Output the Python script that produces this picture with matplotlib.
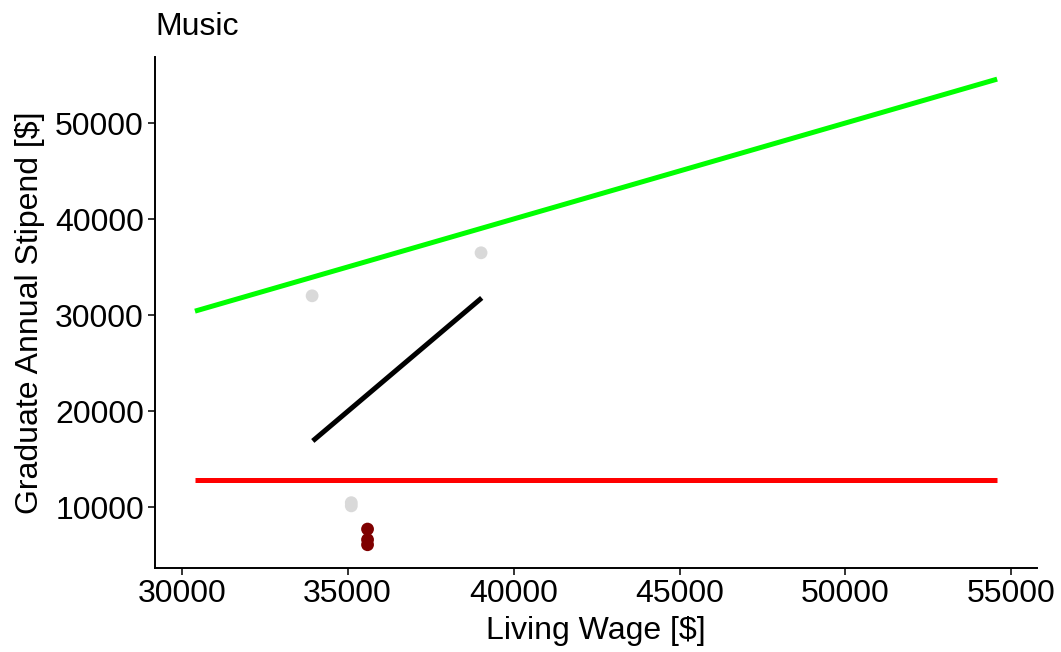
import matplotlib
matplotlib.use("Agg")
import matplotlib.pyplot as plt

plt.rcParams['font.family'] = ['Liberation Sans', 'DejaVu Sans']

# identity line (stipend = living wage)
wage_range = [30400, 54570]
# poverty-level stipend line
poverty_x = [30400, 54570]
poverty_y = [12850, 12850]
# fitted trend over the music programmes
fit_x = [33950, 39040]
fit_y = [16880, 31780]
# programmes above threshold (grey) and below (dark red)
grey_x = [33930, 39020, 35110, 35110]
grey_y = [32000, 36480, 10450, 10120]
low_x = [35600, 35600, 35600]
low_y = [7700, 6600, 6070]

xticks = [30000, 35000, 40000, 45000, 50000, 55000]
yticks = [10000, 20000, 30000, 40000, 50000]

W, H = 1061, 652
fig = plt.figure(figsize=(W / 100, H / 100), dpi=100)
ax = fig.add_axes([155 / W, (H - 568) / H, (1037 - 155) / W, (568 - 57) / H])

ax.plot(wage_range, wage_range, color='#00FF00', lw=3.6, solid_capstyle='butt')
ax.plot(poverty_x, poverty_y, color='#FF0000', lw=3.6, solid_capstyle='butt')
ax.scatter(grey_x, grey_y, s=85, color='#D9D9D9', edgecolors='none', zorder=3)
ax.scatter(low_x, low_y, s=85, color='#7F0000', edgecolors='none', zorder=3)
ax.plot(fit_x, fit_y, color='black', lw=3.6, solid_capstyle='butt', zorder=4)

ax.set_xlim(29196, 55771)
ax.set_ylim(3646, 56875)
ax.set_xticks(xticks)
ax.set_yticks(yticks)
ax.set_xticklabels([str(t) for t in xticks])
ax.set_yticklabels([str(t) for t in yticks])

for s in ['top', 'right']:
    ax.spines[s].set_visible(False)
for s in ['left', 'bottom']:
    ax.spines[s].set_linewidth(1.4)
    ax.spines[s].set_color('black')
ax.tick_params(axis='both', length=5, width=1.4, color='#333333',
               labelsize=23, labelcolor='black', pad=3)

ax.set_xlabel('Living Wage [$]', fontsize=23, labelpad=5)
ax.set_ylabel('Graduate Annual Stipend [$]', fontsize=23, labelpad=7)
ax.set_title('Music', loc='left', fontsize=23, pad=16)

fig.savefig('out.png', dpi=100)
